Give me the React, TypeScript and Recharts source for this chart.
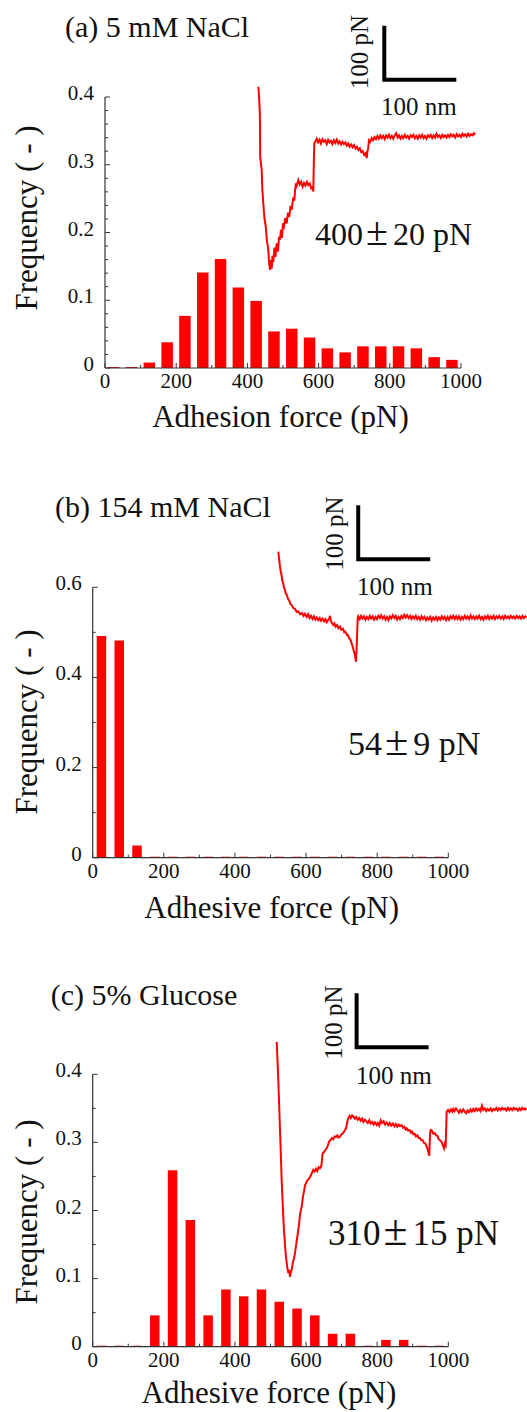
import React from "react";
import { ComposedChart, Bar, Line, XAxis, YAxis, ReferenceLine } from "recharts";

// histogram bins (pN), 50 pN wide
const binCenters = [25, 75, 125, 175, 225, 275, 325, 375, 425, 475, 525, 575, 625, 675, 725, 775, 825, 875, 925, 975];

const freqA = [0, 0, 0.008, 0.038, 0.077, 0.141, 0.161, 0.119, 0.099, 0.054, 0.058, 0.045, 0.029, 0.023, 0.032, 0.032, 0.032, 0.029, 0.016, 0.012];
const freqB = [0.492, 0.482, 0.027, 0, 0, 0, 0, 0, 0, 0, 0, 0, 0, 0, 0, 0, 0, 0, 0, 0];
const freqC = [0, 0, 0, 0.046, 0.259, 0.186, 0.046, 0.084, 0.074, 0.084, 0.066, 0.056, 0.046, 0.019, 0.019, 0, 0.01, 0.01, 0, 0];

const forceTicks = [0, 100, 200, 300, 400, 500, 600, 700, 800, 900, 1000];
const forceLabels = [0, 200, 400, 600, 800, 1000];

const freqTicksA = [0, 0.02, 0.04, 0.06, 0.08, 0.1, 0.12, 0.14, 0.16, 0.18, 0.2, 0.22, 0.24, 0.26, 0.28, 0.3, 0.32, 0.34, 0.36, 0.38, 0.4];
const freqLabelsA = [0, 0.1, 0.2, 0.3, 0.4];
const freqTicksB = [0, 0.1, 0.2, 0.3, 0.4, 0.5, 0.6];
const freqLabelsB = [0, 0.2, 0.4, 0.6];
const freqTicksC = [0, 0.05, 0.1, 0.15, 0.2, 0.25, 0.3, 0.35, 0.4];
const freqLabelsC = [0, 0.1, 0.2, 0.3, 0.4];

// force curves: [distance nm, force pN]
const traceA = [
  [0, 93], [1, 75], [2, 50], [2.4, 20], [2.6, -36], [4.7, -61], [5.5, -95], [6.9, -122], [8.5, -150], [10.3, -166],
  [12, -192], [13.9, -209], [15, -232], [16.3, -246], [17.4, -228], [18.6, -244], [19.7, -220], [20.8, -232], [22.5, -205], [23.8, -222],
  [25.6, -197], [27.4, -212], [28.7, -185], [30.1, -190], [31.5, -172], [32.9, -187], [34.3, -160], [35.7, -165], [37.5, -150], [39.4, -160],
  [41.3, -140], [43, -148], [44.6, -130], [46.5, -132], [48.6, -112], [50, -118], [51, -100], [52.2, -86], [53.3, -90], [55.6, -80],
  [57.5, -88], [59.5, -83], [61.5, -92], [63.5, -85], [65.5, -90], [67.5, -83], [69.5, -89], [71.5, -86], [73.5, -95], [75.5, -92],
  [76.4, -101], [77.2, -40], [77.8, -12], [79.5, -8], [81.1, -3], [83, -10], [85, -5], [87, -12], [89, -4], [91, -9],
  [93, -6], [95, -13], [97, -5], [99, -10], [101, -7], [103, -13], [105, -6], [107, -11], [109, -5], [111, -12],
  [113, -8], [115, -14], [117, -9], [119, -13], [121, -10], [123, -16], [125, -12], [127, -18], [129, -14], [131, -19],
  [133, -15], [135, -21], [137, -18], [139, -24], [141, -21], [143, -28], [145, -26], [147, -33], [149, -30], [150.6, -39],
  [151.5, -27], [152.4, -22], [153.8, -6], [155.5, -9], [157.5, -2], [159.5, -6], [161.5, 0], [163.5, -4], [165.5, 2], [167.5, -3],
  [169.5, 3], [171.5, -2], [173.5, 2], [175.5, -4], [177.5, 3], [179.5, -1], [181.5, 4], [183.5, -2], [185.5, 2], [187.5, -3],
  [189.5, 3], [191.5, 7], [193.5, -1], [195.5, 3], [197.5, -3], [199.5, 2], [201.5, -2], [203.5, 4], [205.5, -1], [207.5, 2],
  [209.5, -3], [211.5, 3], [213.5, 0], [215.5, 4], [217.5, -2], [219.5, 2], [221.5, -3], [223.5, 3], [225.5, -1], [227.5, 4],
  [229.5, -2], [231.5, 2], [233.5, -3], [235.5, 3], [237.5, 0], [239.5, 4], [241.5, -2], [243.5, 3], [245.5, -1], [247.5, 6],
  [249.5, 0], [251.5, 3], [253.5, -2], [255.5, 4], [257.5, 0], [259.5, 3], [261.5, -1], [263.5, 4], [265.5, 0], [267.5, 5],
  [269.5, 1], [271.5, 4], [273.5, -1], [275.5, 5], [277.5, 1], [279.5, 4], [281.5, 0], [283.5, 6], [285.5, 2], [287.5, 5],
  [289.5, 1], [291.5, 6], [293.5, 2], [295.5, 5], [297.5, 3], [299.5, 7], [301, 4],
];

const traceB = [
  [0, 123], [1, 111], [2.4, 95], [3.4, 86], [4.4, 80], [5.5, 70], [6.9, 64], [8, 56], [9.3, 52], [10.5, 45],
  [11.7, 43], [13.3, 36], [14.9, 33], [16.8, 26], [18.6, 24], [21, 18], [23.2, 17], [25.5, 11], [27.8, 12], [30.2, 7],
  [32.9, 9], [35, 4], [37, 8], [39.4, 2], [41.5, 7], [43.5, 0], [45.4, 4], [47.5, -2], [49.5, 3], [51.5, -3],
  [53.3, 1], [55.5, -4], [57.5, 0], [59.3, -5], [61.5, -1], [63.5, -6], [65.5, -2], [67.2, -8], [69, -4], [70.5, -2],
  [71.8, 4], [73, -6], [74.5, -9], [76.4, -13], [78, -10], [79.5, -16], [81.5, -13], [83.5, -19], [85.7, -16], [87.5, -22],
  [89.9, -20], [91.5, -26], [93, -25], [95, -31], [96.5, -31], [98.2, -37], [100, -40], [101.9, -47], [103.5, -54], [105.1, -62],
  [106.5, -70], [107.9, -81], [108.8, -55], [109.7, -22], [110.3, 0], [111.1, 3], [113, -2], [115, 4], [117, -1], [119, 3],
  [121, -3], [123, 2], [125, -2], [127, 4], [129, -1], [131, 3], [133, -3], [135, 2], [137, -2], [139, 4],
  [141, 0], [143, 5], [145, -1], [147, 3], [149, -3], [151, 2], [153, -4], [155, 3], [157, -1], [159, 5],
  [161, 0], [163, 4], [165, -3], [167, 2], [169, -2], [171, 4], [173, 0], [175, 6], [177, 1], [179, 5],
  [181, 0], [183, 4], [185, -2], [187, 3], [189, -1], [191, 4], [193, -2], [195, 2], [197, -3], [199, 3],
  [201, -2], [203, 2], [205, -4], [207, 1], [209, -3], [211, 2], [213, -5], [215, 1], [217, -3], [219, 2],
  [221, -4], [223, 1], [225, -3], [227, 3], [229, -2], [231, 2], [233, -4], [235, 2], [237, -3], [239, 3],
  [241, -1], [243, 4], [245, -2], [247, 3], [249, -2], [251, 3], [253, -3], [255, 2], [257, -2], [259, 4],
  [261, -1], [263, 3], [265, -2], [267, 5], [269, -1], [271, 3], [273, -2], [275, 3], [277, -1], [279, 4],
  [281, -2], [283, 2], [285, -3], [287, 3], [289, -1], [291, 4], [293, -2], [295, 3], [297, -1], [299, 4],
  [301, -2], [303, 3], [305, 0], [307, 4], [309, -1], [311, 3], [313, -2], [315, 4], [317, 0], [319, 3],
  [321, -1], [323, 4], [325, 0], [327, 3], [329, -1], [331, 4], [333, 0], [335, 3], [337, -1], [339, 4],
  [341, 0], [343, 3], [345, 1],
];

const traceC = [
  [0, 126], [1, 95], [2.2, 56], [3.4, 10], [4.6, -37], [5.8, -85], [6.9, -130], [8.5, -178], [10.1, -222], [11.5, -250],
  [12.9, -272], [14.5, -290], [16.1, -302], [17.3, -296], [18.5, -309], [19.7, -300], [20.8, -296], [22.6, -281], [24, -275], [25.4, -265],
  [27.5, -245], [30, -222], [31.2, -210], [32.4, -194], [33.5, -186], [34.7, -179], [36.5, -160], [38, -150], [39.3, -139], [40.7, -136],
  [42.1, -131], [44.2, -128], [46.3, -124], [48.5, -118], [50.8, -111], [52.7, -114], [54.6, -109], [56.5, -113], [58.3, -106], [60.1, -108],
  [62, -104], [63.2, -88], [63.9, -80], [65.7, -78], [67.5, -74], [69.4, -71], [71, -66], [72.6, -59], [74.5, -56], [76.4, -52],
  [78.5, -54], [80.5, -49], [82.4, -50], [84.3, -47], [86, -51], [87.9, -49], [90, -45], [92, -43], [94.9, -37], [96.5, -33],
  [98, -22], [99.4, -15], [101.3, -11], [103, -15], [104.7, -10], [106.4, -12], [108.5, -16], [110.5, -13], [112.5, -18], [114.5, -15],
  [116.5, -20], [118.5, -16], [120.5, -22], [122.5, -18], [124.5, -21], [126.5, -24], [128.5, -19], [130.5, -25], [132.5, -22], [134.5, -27],
  [136.5, -23], [138.9, -28], [140.5, -24], [142.5, -29], [144.5, -19], [146.3, -24], [148.5, -21], [150.5, -27], [152.8, -23], [155, -28],
  [157, -24], [159, -29], [161.5, -25], [163.5, -30], [165.5, -26], [167.5, -31], [169.5, -27], [171.3, -30], [173.5, -28], [175.5, -33],
  [177.5, -31], [179, -36], [180.6, -34], [182.5, -38], [184.5, -37], [186.5, -42], [188, -40], [189.7, -45], [191.5, -44], [193.5, -49],
  [195.5, -47], [197, -52], [199, -52], [201, -56], [202.8, -56], [204.6, -61], [206.5, -62], [208.3, -68], [210, -74], [211.9, -85],
  [212.5, -60], [213.2, -40], [213.9, -37], [215.5, -38], [217.5, -44], [219.9, -43], [221.5, -47], [223.5, -48], [225, -54], [226.8, -56],
  [228.5, -58], [230.5, -64], [232.4, -71], [233.5, -62], [234.7, -65], [235.5, -30], [236.1, -3], [238, 0], [240, -4], [242, 1],
  [244, -3], [245.3, 2], [247, -2], [249, 3], [251, -1], [253, -5], [255, 0], [257, -4], [259, 1], [261, -3],
  [263, -6], [265, -1], [267, -4], [269, 1], [271, -3], [273, 2], [275, -2], [277, 3], [279, -1], [281, 2],
  [283, -2], [285, 8], [287, 0], [289, 3], [291, -2], [293, 2], [295, -1], [297, 3], [299, -2], [301, 2],
  [303, 0], [305, 4], [307, -1], [309, 3], [311, 0], [313, 4], [315, 1], [317, 3], [319, -1], [321, 4],
  [323, 0], [325, 3], [327, 0], [329, 4], [331, 1], [333, 3], [335, -1], [337, 3], [339, 0], [341, 4],
  [343, 1], [345, 3], [347, 0],
];

// scale bars (100 nm x 100 pN), in the force-curve frame
const scaleBarA = [[175, 206], [175, 106], [275, 106]];
const scaleBarB = [[111, 209], [111, 109], [211, 109]];
const scaleBarC = [[111, 216], [111, 116], [211, 116]];

const SERIF = '"Liberation Serif", "Times New Roman", serif';
const RED = "#ff0000";
const AXIS = "#333333";
const INK = "#111111";
const PX_PER_NM = 0.72;
const PX_PER_PN = 0.54;
const W = 527;
const Y_AXIS_W = 40;
const X_AXIS_H = 30;

const makeYTick = (labels: number[]) => (props: any) => {
  const { x, y, payload } = props;
  const major = labels.includes(payload.value);
  return (
    <g>
      <line x1={x} y1={y} x2={x + (major ? 5 : 3)} y2={y} stroke={AXIS} strokeWidth={1} />
      {major && (
        <text x={x - 11} y={y + 3} textAnchor="end" fontFamily={SERIF} fontSize={21} fill={INK}>
          {String(payload.value)}
        </text>
      )}
    </g>
  );
};

const makeXTick = (labels: number[]) => (props: any) => {
  const { x, y, payload } = props;
  const major = labels.includes(payload.value);
  return (
    <g>
      <line x1={x} y1={y} x2={x} y2={y - (major ? 5 : 3)} stroke={AXIS} strokeWidth={1} />
      {major && (
        <text x={x} y={y + 20} textAnchor="middle" fontFamily={SERIF} fontSize={21} fill={INK}>
          {String(payload.value)}
        </text>
      )}
    </g>
  );
};

const Panel = ({ cfg }: { cfg: any }) => {
  const { top, height, plotLeft, plotTop, plotBottom } = cfg;
  const plotRight = W;
  const fMax = (1000 * (plotRight - plotLeft)) / (cfg.x1000 - plotLeft);
  const freqMax = (cfg.yMaxVal * (plotBottom - plotTop)) / (plotBottom - cfg.yMaxPx);
  const nmDomain = [(plotLeft - cfg.traceX0) / PX_PER_NM, (plotRight - cfg.traceX0) / PX_PER_NM];
  const pnDomain = [(cfg.traceBase - plotBottom) / PX_PER_PN, (cfg.traceBase - plotTop) / PX_PER_PN];

  const rows = binCenters.map((f, i) => ({ force: f, freq: cfg.freq[i] }));
  const trace = cfg.trace.map(([nm, pN]: number[]) => ({ nm, pN }));
  const bar = cfg.scaleBar.map(([nm, pN]: number[]) => ({ nm, pN }));
  const r = (y: number) => y - top;

  return (
    <div style={{ position: "absolute", left: 0, top }}>
      <ComposedChart
        width={W}
        height={height}
        data={rows}
        margin={{
          top: plotTop - top,
          right: 0,
          bottom: top + height - plotBottom - X_AXIS_H,
          left: plotLeft - Y_AXIS_W,
        }}
      >
        <XAxis
          xAxisId="f"
          dataKey="force"
          type="number"
          domain={[0, fMax]}
          ticks={forceTicks}
          interval={0}
          height={X_AXIS_H}
          tickSize={0}
          tickMargin={0}
          axisLine={false}
          tickLine={false}
          tick={makeXTick(forceLabels)}
        />
        <YAxis
          yAxisId="freq"
          type="number"
          domain={[0, freqMax]}
          ticks={cfg.freqTicks}
          interval={0}
          width={Y_AXIS_W}
          tickSize={0}
          tickMargin={0}
          axisLine={false}
          tickLine={false}
          tick={makeYTick(cfg.freqLabels)}
        />
        <XAxis xAxisId="nm" dataKey="nm" type="number" domain={nmDomain} allowDataOverflow hide />
        <YAxis yAxisId="pN" type="number" domain={pnDomain} allowDataOverflow hide />

        <Bar
          xAxisId="f"
          yAxisId="freq"
          dataKey="freq"
          fill={RED}
          barSize={cfg.barSize}
          minPointSize={1}
          isAnimationActive={false}
        />
        <ReferenceLine xAxisId="f" yAxisId="freq" segment={[{ x: 0, y: 0 }, { x: 0, y: cfg.yMaxVal }]} stroke={AXIS} strokeWidth={1.2} />
        <ReferenceLine xAxisId="f" yAxisId="freq" segment={[{ x: 0, y: 0 }, { x: 1000, y: 0 }]} stroke={AXIS} strokeWidth={1.2} />

        <Line
          xAxisId="nm"
          yAxisId="pN"
          data={trace}
          dataKey="pN"
          type="linear"
          stroke={RED}
          strokeWidth={2}
          dot={false}
          isAnimationActive={false}
        />
        <Line
          xAxisId="nm"
          yAxisId="pN"
          data={bar}
          dataKey="pN"
          type="linear"
          stroke="#000"
          strokeWidth={4}
          strokeLinejoin="miter"
          strokeLinecap="butt"
          dot={false}
          isAnimationActive={false}
        />

        <text x={cfg.titlePos[0]} y={r(cfg.titlePos[1])} fontFamily={SERIF} fontSize={30} fill={INK}>
          {cfg.title}
        </text>
        <text
          x={cfg.pnPos[0]}
          y={r(cfg.pnPos[1])}
          transform={`rotate(-90 ${cfg.pnPos[0]} ${r(cfg.pnPos[1])})`}
          textAnchor="middle"
          fontFamily={SERIF}
          fontSize={25}
          fill={INK}
        >
          100 pN
        </text>
        <text x={cfg.nmPos[0]} y={r(cfg.nmPos[1])} fontFamily={SERIF} fontSize={25} fill={INK}>
          100 nm
        </text>
        <text x={cfg.notePos[0]} y={r(cfg.notePos[1])} fontFamily={SERIF} fontSize={cfg.noteSize} fill={INK}>
          {cfg.note[0]}
          <tspan dx={3} fontSize={cfg.noteSize * 1.25}>±</tspan>
          <tspan dx={5} fontSize={cfg.noteSize}>{cfg.note[1]}</tspan>
        </text>
        <text
          x={37}
          y={r(cfg.yTitleY)}
          transform={`rotate(-90 37 ${r(cfg.yTitleY)})`}
          textAnchor="middle"
          fontFamily={SERIF}
          fontSize={31}
          fill={INK}
        >
          Frequency ( - )
        </text>
        <text x={cfg.xTitlePos[0]} y={r(cfg.xTitlePos[1])} textAnchor="middle" fontFamily={SERIF} fontSize={31} fill={INK}>
          {cfg.xTitle}
        </text>
      </ComposedChart>
    </div>
  );
};

const panels = [
  {
    top: 0, height: 445, plotLeft: 105, plotTop: 15, plotBottom: 368, x1000: 461, yMaxVal: 0.4, yMaxPx: 97,
    traceX0: 258.3, traceBase: 137, barSize: 11.5,
    freq: freqA, freqTicks: freqTicksA, freqLabels: freqLabelsA, trace: traceA, scaleBar: scaleBarA,
    title: "(a) 5 mM NaCl", titlePos: [65, 37], pnPos: [368, 52], nmPos: [381, 115],
    note: ["400", "20 pN"], notePos: [315, 245], noteSize: 32,
    yTitleY: 218, xTitle: "Adhesion force (pN)", xTitlePos: [280.5, 427],
  },
  {
    top: 470, height: 465, plotLeft: 92.7, plotTop: 490, plotBottom: 857.7, x1000: 448.3, yMaxVal: 0.6, yMaxPx: 587.3,
    traceX0: 278.3, traceBase: 618, barSize: 9.5,
    freq: freqB, freqTicks: freqTicksB, freqLabels: freqLabelsB, trace: traceB, scaleBar: scaleBarB,
    title: "(b) 154 mM NaCl", titlePos: [55, 516.7], pnPos: [343, 533.5], nmPos: [357, 595],
    note: ["54", "9 pN"], notePos: [348, 755], noteSize: 34,
    yTitleY: 722, xTitle: "Adhesive force (pN)", xTitlePos: [271.7, 918],
  },
  {
    top: 955, height: 457, plotLeft: 92.7, plotTop: 975, plotBottom: 1346.7, x1000: 448.3, yMaxVal: 0.4, yMaxPx: 1074.3,
    traceX0: 276.7, traceBase: 1110, barSize: 9.5,
    freq: freqC, freqTicks: freqTicksC, freqLabels: freqLabelsC, trace: traceC, scaleBar: scaleBarC,
    title: "(c) 5% Glucose", titlePos: [50.7, 1005], pnPos: [342, 1022.5], nmPos: [356, 1084],
    note: ["310", "15 pN"], notePos: [328, 1245], noteSize: 35,
    yTitleY: 1212, xTitle: "Adhesive force (pN)", xTitlePos: [269, 1403],
  },
];

export default function App() {
  return (
    <div style={{ position: "absolute", left: 0, top: 0, width: W, height: 1412, background: "#fff", overflow: "hidden" }}>
      {panels.map((p) => (
        <Panel key={p.title} cfg={p} />
      ))}
    </div>
  );
}
